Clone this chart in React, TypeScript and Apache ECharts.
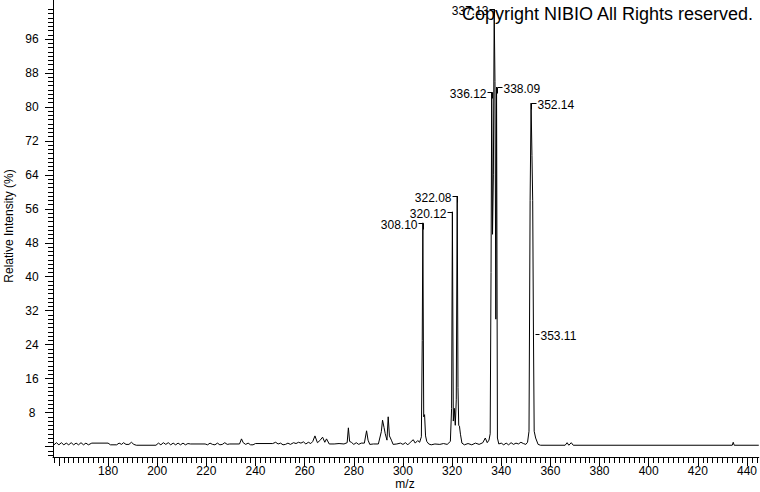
import React, { useEffect, useRef } from "react";
import * as echarts from "echarts";

const FONT = '"Liberation Sans", Arial, sans-serif';

// Axis ranges
const X_MIN = 157.6;
const X_MAX = 444.8;
const Y_MIN = -2.47;
const Y_MAX = 105.2;

// Tick values / labels
const xMajorTicks = [160, 180, 200, 220, 240, 260, 280, 300, 320, 340, 360, 380, 400, 420, 440];
const xTickLabels = [180, 200, 220, 240, 260, 280, 300, 320, 340, 360, 380, 400, 420, 440];
const yMajorTicks = [0, 8, 16, 24, 32, 40, 48, 56, 64, 72, 80, 88, 96];
const yTickLabels = [8, 16, 24, 32, 40, 48, 56, 64, 72, 80, 88, 96];

// Profile spectrum (m/z, relative intensity %)
const profile158to200: [number, number][] = [
  [158, 0.4], [159, 0.9], [160, 0.4], [161, 0.9], [162, 0.4], [163, 0.8], [164, 0.4],
  [165, 0.9], [166, 0.4], [167, 0.8], [168, 0.4], [169, 0.9], [170, 0.4], [171, 0.8],
  [172, 0.4], [173.4, 0.8], [180, 0.8], [181, 0.4], [183.5, 0.4], [184.5, 0.8],
  [185.5, 0.5], [186.3, 0.9], [187.3, 0.5], [188.5, 0.5], [189.5, 1.0], [190.5, 0.5],
  [191.5, 0.3], [199.5, 0.3],
];
const profile200to260: [number, number][] = [
  [200.5, 0.8], [201.5, 0.4], [202.5, 0.9], [203.5, 0.5], [204.5, 0.9], [205.5, 0.4],
  [206.5, 0.8], [207.5, 0.4], [208.5, 0.8], [209.5, 0.4], [210.5, 0.8], [211.5, 0.4],
  [212.5, 0.7], [213.5, 0.6], [219.5, 0.6], [220.5, 0.4], [221.5, 0.8], [222.5, 0.5],
  [223.5, 0.4], [224.5, 0.8], [225.5, 0.4], [226.5, 0.5], [227.5, 0.9], [228.5, 0.5],
  [229.5, 0.6], [233.5, 0.6], [234.3, 1.8], [235, 0.9], [236, 0.5], [237, 0.8],
  [238, 0.4], [239, 0.4], [240, 0.7], [247, 0.7], [248.2, 1.0], [249.2, 0.6],
  [250.2, 0.8], [251.2, 0.4], [252.2, 0.5], [253.2, 0.8], [254.2, 0.5], [255.5, 0.9],
  [256.5, 0.7], [257.5, 1.0], [258.5, 0.8], [259.5, 1.1],
];
const profile260to306: [number, number][] = [
  [260.5, 0.6], [261.5, 1.0], [262.5, 0.7], [263.3, 1.2], [264.2, 2.5], [265.2, 0.9],
  [266.2, 1.4], [267.3, 2.2], [268.2, 1.0], [268.9, 1.8], [270, 0.6], [272, 0.6],
  [274, 0.7], [276, 0.6], [277.3, 0.9], [277.8, 4.4], [278.3, 1.2], [279, 1.0],
  [280, 0.5], [281, 0.9], [282, 0.5], [283, 0.8], [284.3, 0.8], [285.2, 3.7],
  [285.8, 1.5], [286.5, 0.5], [288, 0.6], [290, 0.6], [291.2, 3.5], [291.7, 6.2],
  [292.3, 4.5], [292.8, 3.0], [293.5, 1.5], [294.0, 7.0], [294.5, 2.5], [295.3, 1.5],
  [296, 0.5], [297.5, 0.6], [299, 0.8], [300, 0.5], [301, 0.9], [302, 0.4],
  [303, 1.0], [304.2, 1.6], [305, 0.8],
];
const profile306to326: [number, number][] = [
  [306, 1.4], [306.8, 1.0], [307.5, 2.3], [307.85, 25], [308.1, 52.7], [308.45, 7.0],
  [308.8, 7.5], [309.2, 2.5], [309.7, 1.2], [310.5, 0.6], [311.5, 0.4], [313, 0.6],
  [315, 0.5], [316.5, 0.7], [318, 0.5], [319.3, 1.2], [319.8, 9], [320.12, 55.3],
  [320.5, 6], [320.9, 9], [321.3, 5], [321.7, 11], [322.08, 59.0], [322.4, 13.9],
  [322.7, 5], [323.0, 4.8], [323.4, 2.9], [324, 0.8], [325, 0.4],
];
const profile326to356: [number, number][] = [
  [326.5, 0.7], [328, 0.4], [329.5, 0.8], [331, 0.5], [332.5, 0.9], [333.5, 2.0],
  [334.3, 0.9], [335.0, 1.5], [335.5, 3.0], [335.85, 41], [336.12, 83.5], [336.45, 50],
  [336.8, 64], [337.13, 103], [337.45, 86], [337.8, 30], [338.09, 84.7], [338.45, 2.0],
  [339, 0.6], [340, 0.8], [341, 0.4], [342, 0.8], [343, 0.4], [344, 0.9], [345, 0.5],
  [346, 0.8], [347, 0.6], [348, 1.0], [349, 0.7], [350, 0.5], [350.7, 1.0],
  [351.3, 3.6], [351.75, 58], [352.14, 80.9], [352.5, 68.6], [352.8, 58],
  [353.11, 26.5], [353.4, 3.6], [354.0, 2.0], [355.0, 0.5],
];
const profile356to445: [number, number][] = [
  [356, 0.3], [366, 0.3], [366.8, 0.9], [367.5, 0.3], [368.5, 0.9], [369.3, 0.3],
  [434, 0.3], [434.4, 1.0], [434.8, 0.3], [444.8, 0.3],
];

// Annotated peaks
const peakMz = [308.1, 320.12, 322.08, 336.12, 337.13, 338.09, 352.14, 353.11];
const peakIntensity = [52.7, 55.3, 59.0, 83.5, 103, 84.7, 80.9, 26.5];
const peakLabels = ["308.10", "320.12", "322.08", "336.12", "337.13", "338.09", "352.14", "353.11"];
const peakSide = ["left", "left", "left", "left", "left", "right", "right", "dash"];

const range = (a: number, b: number, step: number) => {
  const out: number[] = [];
  for (let v = a; v <= b + 1e-9; v += step) out.push(Math.round(v * 100) / 100);
  return out;
};

export default function App() {
  const ref = useRef<HTMLDivElement>(null);

  useEffect(() => {
    if (!ref.current) return;
    const chart = echarts.init(ref.current, null, { renderer: "svg" });

    const profile = [
      ...profile158to200,
      ...profile200to260,
      ...profile260to306,
      ...profile306to326,
      ...profile326to356,
      ...profile356to445,
    ];

    const xMinorTicks = range(158, 444, 2);
    const yMinorTicks = range(-2, 103, 1);

    const axisBase = {
      type: "value" as const,
      splitLine: { show: false },
    };

    chart.setOption({
      animation: false,
      backgroundColor: "#ffffff",
      grid: { left: 53, right: 1, top: 0, bottom: 35, containLabel: false },
      xAxis: [
        {
          ...axisBase,
          min: X_MIN,
          max: X_MAX,
          position: "bottom",
          axisLine: { show: true, onZero: false, lineStyle: { color: "#000", width: 1 } },
          axisTick: { show: true, customValues: xMajorTicks, length: 9, lineStyle: { color: "#000" } },
          axisLabel: {
            show: true,
            customValues: xTickLabels,
            margin: 8,
            color: "#000",
            fontSize: 12,
            fontFamily: FONT,
          },
        },
        {
          ...axisBase,
          min: X_MIN,
          max: X_MAX,
          position: "bottom",
          axisLine: { show: false, onZero: false },
          axisTick: { show: true, customValues: xMinorTicks, length: 6, lineStyle: { color: "#000" } },
          axisLabel: { show: false },
        },
      ],
      yAxis: [
        {
          ...axisBase,
          min: Y_MIN,
          max: Y_MAX,
          position: "left",
          axisLine: { show: true, onZero: false, lineStyle: { color: "#000", width: 1 } },
          axisTick: { show: true, customValues: yMajorTicks, length: 8, lineStyle: { color: "#000" } },
          axisLabel: {
            show: true,
            customValues: yTickLabels,
            margin: 21,
            align: "center",
            color: "#000",
            fontSize: 12,
            fontFamily: FONT,
          },
        },
        {
          ...axisBase,
          min: Y_MIN,
          max: Y_MAX,
          position: "left",
          axisLine: { show: false, onZero: false },
          axisTick: { show: true, customValues: yMinorTicks, length: 5, lineStyle: { color: "#000" } },
          axisLabel: { show: false },
        },
      ],
      graphic: [
        {
          type: "text",
          x: 462,
          y: 14,
          style: {
            text: "Copyright NIBIO All Rights reserved.",
            font: `18px ${FONT}`,
            fill: "#000",
            align: "left",
            verticalAlign: "middle",
          },
          z: 100,
        },
        {
          type: "text",
          x: 9,
          y: 226,
          rotation: Math.PI / 2,
          style: {
            text: "Relative Intensity (%)",
            font: `12px ${FONT}`,
            fill: "#000",
            align: "center",
            verticalAlign: "middle",
          },
        },
        {
          type: "text",
          x: 405,
          y: 484,
          style: {
            text: "m/z",
            font: `12px ${FONT}`,
            fill: "#000",
            align: "center",
            verticalAlign: "middle",
          },
        },
      ],
      series: [
        {
          type: "line",
          xAxisIndex: 0,
          yAxisIndex: 0,
          data: profile,
          showSymbol: false,
          symbol: "none",
          lineStyle: { color: "#000", width: 1 },
          silent: true,
          clip: true,
        },
        {
          type: "custom",
          xAxisIndex: 0,
          yAxisIndex: 0,
          clip: false,
          silent: true,
          data: peakMz.map((mz, i) => [mz, peakIntensity[i]]),
          renderItem: (params: any, api: any) => {
            const i = params.dataIndex;
            const p = api.coord([api.value(0), api.value(1)]);
            const side = peakSide[i];
            const x = Math.round(p[0]) + 0.5;
            const y = Math.round(p[1]) + 0.5;
            let points: number[][];
            let tx: number;
            let align: string;
            if (side === "left") {
              points = [[x - 5, y], [x, y], [x, y + 6]];
              tx = x - 6;
              align = "right";
            } else if (side === "right") {
              points = [[x, y + 6], [x, y], [x + 5, y]];
              tx = x + 6;
              align = "left";
            } else {
              points = [[x + 2, y], [x + 6, y]];
              tx = x + 7;
              align = "left";
            }
            return {
              type: "group",
              children: [
                {
                  type: "polyline",
                  shape: { points },
                  style: { stroke: "#000", lineWidth: 1, fill: null },
                },
                {
                  type: "text",
                  style: {
                    text: peakLabels[i],
                    x: tx,
                    y: y + 1,
                    align,
                    verticalAlign: "middle",
                    font: `12px ${FONT}`,
                    fill: "#000",
                  },
                },
              ],
            };
          },
        },
      ],
    });

    return () => {
      chart.dispose();
    };
  }, []);

  return (
    <div
      ref={ref}
      style={{
        position: "fixed",
        left: 0,
        top: 0,
        width: 760,
        height: 492,
        background: "#fff",
      }}
    />
  );
}
